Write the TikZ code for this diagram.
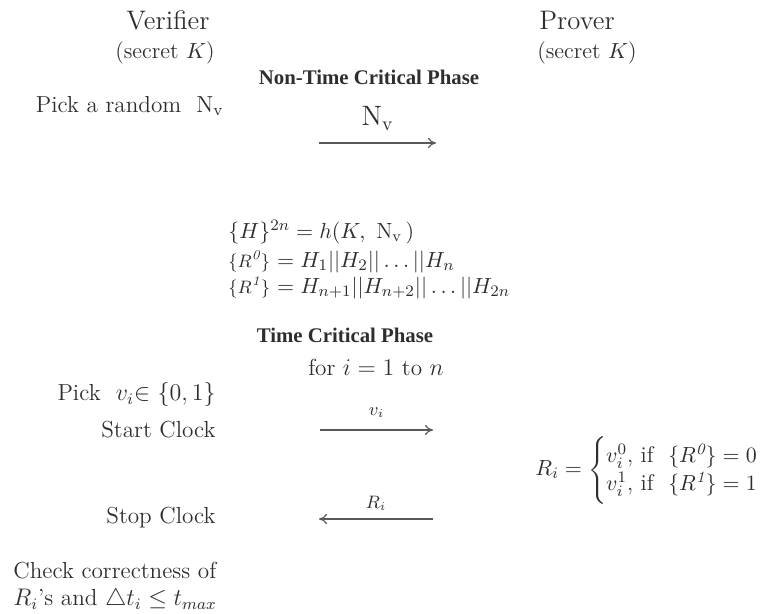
\documentclass[tikz,border=0pt]{standalone}
\usepackage{amsmath,amssymb}
\usepackage{fontspec}
\newfontfamily\phasefont{Liberation Serif}
\usepackage{tikz}
\usetikzlibrary{arrows.meta,positioning}

\begin{document}
\begin{tikzpicture}[
  x=0.5pt, y=-0.5pt,
  every node/.style={inner sep=0pt, text=black!82},
  role/.style={font=\fontsize{13.4}{15}\selectfont},
  keynote/.style={font=\fontsize{11.2}{13}\selectfont},
  phase/.style={font=\phasefont\bfseries\fontsize{10.4}{12}\selectfont},
  act/.style={font=\fontsize{11.6}{13.5}\selectfont},
  eqn/.style={font=\fontsize{11}{13}\selectfont},
  msg/.style={draw=black!65, line width=0.6pt, ->},
  bigl/.style={font=\fontsize{14}{16}\selectfont},
  smalll/.style={font=\fontsize{9}{10}\selectfont},
  >={To[length=4pt,width=5pt]}]
  \useasboundingbox (0,0) rectangle (761,614);
  % parties
  \node[role] (ver) at (168,20) {Verifier};
  \node[keynote] (verkey) at (165,53) {(secret\ $K$)};
  \node[role] (prv) at (577,20) {Prover};
  \node[keynote] (prvkey) at (587,53) {(secret\ $K$)};
  % non time critical phase
  \node[phase] (ntcp) at (369,77) {Non-Time Critical Phase};
  \node[act, anchor=east] (pickn) at (224,106)
        {Pick a random\ \ $\mathrm{N}_{\mathrm{v}}$};
  \coordinate (m1s) at (319,143);
  \coordinate (m1e) at (436,143);
  \draw[msg] (m1s) -- (m1e)
        node[bigl, midway, above=6pt] (nvlbl) {$\mathrm{N}_{\mathrm{v}}$};
  \node[eqn, anchor=west] (hash) at (228,232)
        {$\{H\}^{2n} = h(K,\ \mathrm{N}_{\mathrm{v}}\,)$};
  \node[eqn, anchor=west] (rzero) at (228,262)
        {{\fontsize{9.5}{11}\selectfont$\{R^{\mathit{0}}\}$}\ $= H_1||H_2||\ldots||H_n$};
  \node[eqn, anchor=west] (rone) at (228,288)
        {{\fontsize{9.5}{11}\selectfont$\{R^{\mathit{1}}\}$}\ $= H_{n+1}||H_{n+2}||\ldots||H_{2n}$};
  % time critical phase
  \node[phase] (tcp) at (345,335) {Time Critical Phase};
  \node[act] (loop) at (376,367) {for $i=1$ to $n$};
  \node[act, anchor=east] (pickv) at (216,395)
        {Pick\ \ $v_i{\in}$\ $\{0,1\}$};
  \node[act, anchor=east] (start) at (216,430) {Start Clock};
  \coordinate (m2s) at (320,430);
  \coordinate (m2e) at (433,430);
  \draw[msg] (m2s) -- (m2e)
        node[smalll, midway, above=6pt] (vlbl) {$v_i$};
  \node[act, font=\fontsize{11.3}{13.5}\selectfont, anchor=west] (resp) at (535,470)
        {$R_i = \begin{cases} v_i^0\text{, if}\ \ \{R^{\mathit{0}}\} = 0\\[-2pt]
                              v_i^1\text{, if}\ \ \{R^{\mathit{1}}\} = 1\end{cases}$};
  \node[act, anchor=east] (stop) at (216,518) {Stop Clock};
  \coordinate (m3s) at (433,519);
  \coordinate (m3e) at (319,519);
  \draw[msg] (m3s) -- (m3e)
        node[smalll, midway, above=4pt] (rlbl) {$R_i$};
  \node[act, anchor=north west, align=left] (check) at (13,562)
        {Check correctness of\\$R_i$'s and $\triangle t_i \le t_{max}$};
\end{tikzpicture}
\end{document}
